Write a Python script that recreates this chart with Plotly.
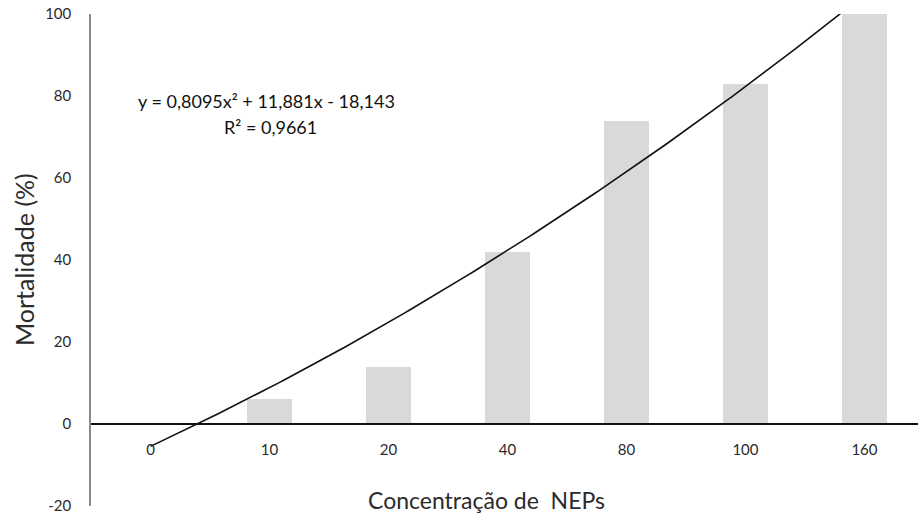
import numpy as np
import plotly.graph_objects as go

categories = ["0", "10", "20", "40", "80", "100", "160"]
mortality = [0, 6, 14, 42, 74, 83, 100]
trend_coeffs = [0.8095, 11.881, -18.143]  # y = a x^2 + b x + c, x = 1..7
y_ticks = [-20, 0, 20, 40, 60, 80, 100]
y_tick_labels = ["-20", "0", "20", "40", "60", "80", "100"]

idx = list(range(len(categories)))
xs = np.linspace(0, len(categories) - 1, 200)
xp = xs + 1
ys = trend_coeffs[0] * xp**2 + trend_coeffs[1] * xp + trend_coeffs[2]

font = "Lato, 'Open Sans', sans-serif"
txt = "#2b2b2b"

fig = go.Figure()
fig.add_trace(go.Bar(x=idx, y=mortality, width=0.38,
                     marker=dict(color="#d9d9d9", line=dict(width=0)),
                     showlegend=False, hoverinfo="skip"))
fig.add_trace(go.Scatter(x=xs, y=ys, mode="lines",
                         line=dict(color="#111111", width=1.6),
                         showlegend=False, hoverinfo="skip"))

fig.update_layout(
    width=918, height=514,
    margin=dict(l=91, r=0, t=14, b=8),
    plot_bgcolor="white", paper_bgcolor="white",
    font=dict(family=font, color=txt),
    bargap=0,
    xaxis=dict(
        range=[-0.5, 6.45],
        tickmode="array", tickvals=idx, ticktext=categories,
        anchor="free", position=1/6,
        showline=True, linecolor="#111111", linewidth=1.5,
        showgrid=False, zeroline=False, ticks="",
        ticklabelstandoff=12,
        tickfont=dict(size=15, color=txt),
    ),
    yaxis=dict(
        range=[-20, 100],
        tickmode="array", tickvals=y_ticks, ticktext=y_tick_labels,
        showline=True, linecolor="#8a8a8a", linewidth=1.5,
        showgrid=False, zeroline=False, ticks="",
        ticklabelstandoff=15, ticklabeloverflow="allow",
        tickfont=dict(size=15, color=txt),
    ),
)

fig.add_annotation(text="Mortalidade (%)", xref="paper", yref="paper",
                   x=-0.081, y=0.5, textangle=-90, showarrow=False,
                   xanchor="center", yanchor="middle",
                   font=dict(size=25, color=txt, family=font))
fig.add_annotation(text="Concentração de  NEPs", xref="paper", yref="paper",
                   x=0.478, y=0.012, showarrow=False,
                   xanchor="center", yanchor="middle",
                   font=dict(size=23, color=txt, family=font))
fig.add_annotation(text="y = 0,8095x² + 11,881x - 18,143", xref="x", yref="y",
                   x=0.979, y=78.8, showarrow=False, xanchor="center", yanchor="middle",
                   font=dict(size=18, color="#111111", family=font))
fig.add_annotation(text="R² = 0,9661", xref="x", yref="y",
                   x=1.01, y=72.4, showarrow=False, xanchor="center", yanchor="middle",
                   font=dict(size=18, color="#111111", family=font))

fig.write_html("out.html")
